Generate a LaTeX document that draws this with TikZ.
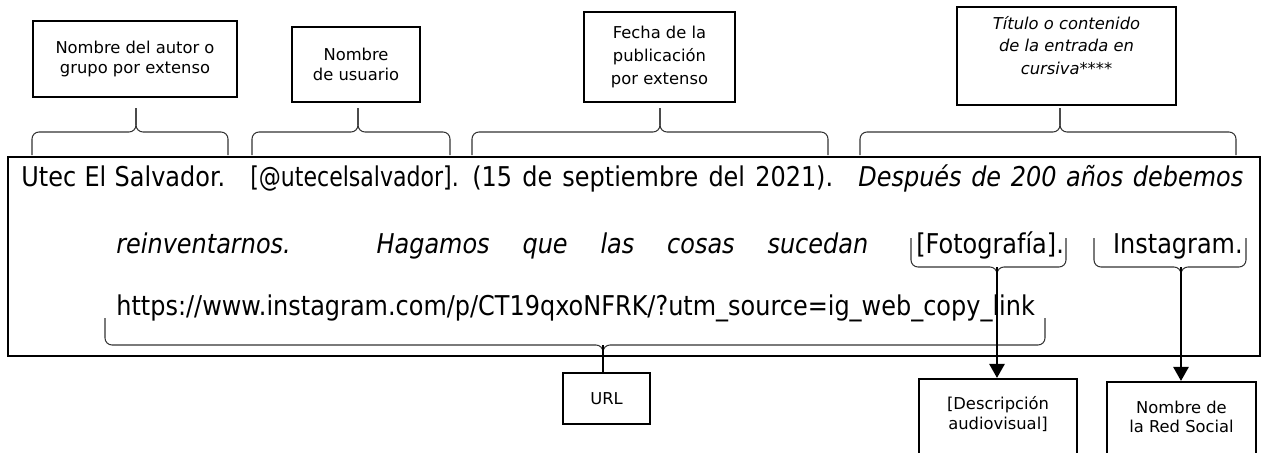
\documentclass[tikz,border=0pt]{standalone}
\usepackage{fontspec}
\setmainfont{DejaVu Sans}
\newfontfamily\textocita{DejaVu Sans}[FakeStretch=0.88]
\usetikzlibrary{arrows.meta}

\begin{document}
\begin{tikzpicture}[x=0.02cm, y=-0.02cm, every node/.style={font=\fontsize{9.3}{11}\selectfont}]
\tikzset{caja/.style={draw,line width=1.1pt,align=center,inner sep=2pt},
  tramo/.style={anchor=base west,inner sep=0pt,font=\textocita\fontsize{15.5}{18}\selectfont},
  llave/.style={line width=0.6pt,black!80,rounded corners=4pt},
  flecha/.style={line width=1.6pt,-{Triangle[width=8.5pt,length=8pt]}}}
\useasboundingbox (0,0) rectangle (1262,453);
\clip (0,0) rectangle (1262,453);
\fill[white] (0,0) rectangle (1262,453);
% cita
\draw[line width=1.6pt] (8,157) rectangle (1260,356);
\node[tramo] (autor) at (21,186) {\makebox[4.08cm][s]{Utec El Salvador.}};
\node[tramo] (usuario) at (250,186) {\scalebox{0.92}[1]{[@utecelsalvador].}};
\node[tramo] (fecha) at (472,186) {\makebox[7.22cm][s]{(15 de septiembre del 2021).}};
\node[tramo] (titulo) at (858,186) {\makebox[7.7cm][s]{\itshape Después de 200 años debemos}};
\node[tramo] (titulob) at (116,253) {\makebox[15.04cm][s]{\itshape reinventarnos. Hagamos que las cosas sucedan}};
\node[tramo] (foto) at (916,253) {[Fotografía].};
\node[tramo,anchor=base east] (red) at (1243,253) {Instagram.};
\node[tramo] (url) at (116,315) {https://www.instagram.com/p/CT19qxoNFRK/?utm\_source=ig\_web\_copy\_link};
% cajas
\node[caja,minimum width=4.08cm,minimum height=1.52cm] (cautor) at (135,59) {Nombre del autor o\\grupo por extenso};
\node[caja,minimum width=2.56cm,minimum height=1.5cm] (cusuario) at (356,64.5) {Nombre\\de usuario};
\node[caja,minimum width=3.02cm,minimum height=1.8cm,font=\fontsize{9.3}{13}\selectfont] (cfecha) at (659.5,57) {Fecha de la\\publicación\\por extenso};
\node[caja,minimum width=4.38cm,minimum height=1.96cm,text depth=12pt,font=\fontsize{9.3}{13}\selectfont\itshape] (ctitulo) at (1066.5,56) {Título o contenido\\de la entrada en\\cursiva****};
\node[caja,minimum width=1.74cm,minimum height=1.02cm] (curl) at (606.5,398.5) {URL};
\node[caja,minimum width=3.16cm,minimum height=1.64cm,text depth=8pt,anchor=north] (cdesc) at (998,378) {[Descripción\\audiovisual]};
\node[caja,minimum width=2.98cm,minimum height=1.64cm,text depth=7pt,anchor=north] (cred) at (1181.5,381) {Nombre de\\la Red Social};
% llaves
\foreach \a/\b/\m [count=\i] in {32/228/136, 252/450/358, 472/828/660, 860/1236/1060} {
  \coordinate (ll\i) at (\m,108);
  \draw[llave] (\a,155) |- (\m,132) -- (ll\i);
  \draw[llave] (\b,155) |- (\m,132) -- (ll\i);
}
\foreach \a/\b/\m/\n in {911/1066/997/pfoto, 1094/1246/1181/pred} {
  \coordinate (\n) at (\m,267);
  \draw[llave] (\a,238) |- (\n) -- ++(0,8);
  \draw[llave] (\b,238) |- (\n) -- ++(0,8);
}
\coordinate (purl) at (603,345);
\draw[llave] (105,318) |- (purl) -- ++(0,8);
\draw[llave] (1045,318) |- (purl) -- ++(0,8);
\draw[line width=0.9pt] (purl) -- (purl |- curl.north);
\draw[flecha] (pfoto) -- (pfoto |- cdesc.north);
\draw[flecha] (pred) -- (pred |- cred.north);
\end{tikzpicture}
\end{document}
